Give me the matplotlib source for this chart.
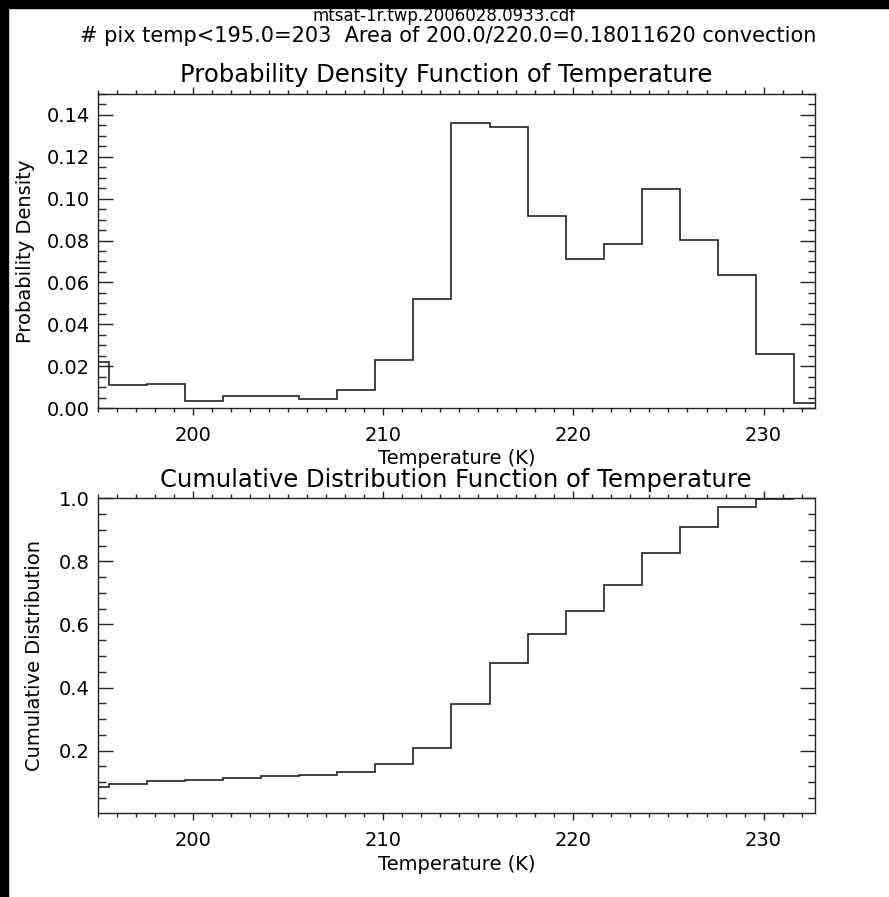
#!/usr/bin/env python3
"""
Brightness temperature PDF / CDF plot for a single MTSAT-1R scene.
"""

import matplotlib
matplotlib.use('Agg')
import matplotlib.pyplot as plt
from matplotlib.patches import Rectangle
from matplotlib.ticker import MultipleLocator, FormatStrFormatter


# Histogram bin edges (K); first/last bins are clipped by the plot range
pdf_edges = [195.0, 195.6, 197.6, 199.6, 201.6, 203.6, 205.6, 207.6, 209.6,
             211.6, 213.6, 215.6, 217.6, 219.6, 221.6, 223.6, 225.6, 227.6,
             229.6, 231.6, 232.7]
pdf_values = [0.0220, 0.0109, 0.0117, 0.0034, 0.0056, 0.0056, 0.0041, 0.0085,
              0.0229, 0.0520, 0.1360, 0.1340, 0.0919, 0.0712, 0.0783, 0.1048,
              0.0804, 0.0635, 0.0256, 0.0025]

cdf_edges = [195.0, 195.6, 197.6, 199.6, 201.6, 203.6, 205.6, 207.6, 209.6,
             211.6, 213.6, 215.6, 217.6, 219.6, 221.6, 223.6, 225.6, 227.6,
             229.6, 231.6]
cdf_values = [0.085, 0.0955, 0.103, 0.108, 0.114, 0.118, 0.124, 0.133, 0.157,
              0.208, 0.347, 0.479, 0.571, 0.644, 0.724, 0.828, 0.910, 0.972,
              0.997]

x_range = (195.0, 232.7)
pdf_range = (0.0, 0.150)
cdf_range = (0.003, 1.0)
pdf_ticks = [0.00, 0.02, 0.04, 0.06, 0.08, 0.10, 0.12, 0.14]
cdf_ticks = [0.2, 0.4, 0.6, 0.8, 1.0]
temp_ticks = [200, 210, 220, 230]

file_name = 'mtsat-1r.twp.2006028.0933.cdf'
summary = '# pix temp<195.0=203  Area of 200.0/220.0=0.18011620 convection'

W, H = 889, 897
LINE = '#222222'


def px(x, y):
    """Pixel position (from top-left) to figure fraction."""
    return x / W, 1 - y / H


def axes_rect(left, top, right, bottom):
    x0, y1 = px(left, top)
    x1, y0 = px(right, bottom)
    return [x0, y0, x1 - x0, y1 - y0]


def style_axes(ax, yticks, ymajor_fmt, yminor):
    ax.set_xlim(*x_range)
    ax.set_xticks(temp_ticks)
    ax.xaxis.set_minor_locator(MultipleLocator(1))
    ax.set_yticks(yticks)
    ax.yaxis.set_major_formatter(FormatStrFormatter(ymajor_fmt))
    ax.yaxis.set_minor_locator(MultipleLocator(yminor))
    for s in ax.spines.values():
        s.set_linewidth(1.0)
        s.set_color(LINE)
    # x ticks point out, y ticks point in, on both sides
    ax.tick_params(axis='x', which='both', direction='out', top=True,
                   bottom=True, color=LINE, width=1.0, labelsize=14, pad=8)
    ax.tick_params(axis='x', which='major', length=5)
    ax.tick_params(axis='x', which='minor', length=2.8)
    ax.tick_params(axis='y', which='both', direction='in', left=True,
                   right=True, color=LINE, width=1.0, labelsize=14, pad=5.5)
    ax.tick_params(axis='y', which='major', length=10.8)
    ax.tick_params(axis='y', which='minor', length=5.4)


def main():
    plt.rcParams['font.family'] = ['DejaVu Sans']
    fig = plt.figure(figsize=(W / 100, H / 100), dpi=100, facecolor='white')

    # dark frame along the left and top edges
    fig.patches.append(Rectangle((0, 0), 8 / W, 1, transform=fig.transFigure,
                                 color='black', zorder=0))
    fig.patches.append(Rectangle((0, 1 - 8 / H), 1, 8 / H,
                                 transform=fig.transFigure, color='black',
                                 zorder=0))

    fig.text(*px(444, 16), file_name, ha='center', va='center', fontsize=12)
    fig.text(*px(448, 36.5), summary, ha='center', va='center', fontsize=15)

    # --- PDF panel ---
    ax1 = fig.add_axes(axes_rect(97.5, 94, 815, 408))
    ax1.stairs(pdf_values, pdf_edges, baseline=None, color=LINE,
               linewidth=1.2)
    ax1.set_ylim(*pdf_range)
    style_axes(ax1, pdf_ticks, '%.2f', 0.005)
    ax1.set_ylabel('Probability Density', fontsize=14, va='center')
    ax1.yaxis.set_label_coords((26 - 97.5) / 717.5, 0.5)
    ax1.set_xlabel('Temperature (K)', fontsize=14, va='center')
    ax1.xaxis.set_label_coords(0.5, (408 - 459) / 314)
    fig.text(*px(446, 75), 'Probability Density Function of Temperature',
             ha='center', va='center', fontsize=17.5)

    # --- CDF panel ---
    ax2 = fig.add_axes(axes_rect(97.5, 498.3, 815, 812.7))
    ax2.stairs(cdf_values, cdf_edges, baseline=None, color=LINE,
               linewidth=1.2)
    ax2.set_ylim(*cdf_range)
    style_axes(ax2, cdf_ticks, '%.1f', 0.05)
    ax2.set_ylabel('Cumulative Distribution', fontsize=14, va='center')
    ax2.yaxis.set_label_coords((35 - 97.5) / 717.5, 0.5)
    ax2.set_xlabel('Temperature (K)', fontsize=14, va='center')
    ax2.xaxis.set_label_coords(0.5, (812.7 - 864) / 314.4)
    fig.text(*px(456, 480), 'Cumulative Distribution Function of Temperature',
             ha='center', va='center', fontsize=17.5)

    fig.savefig('out.png', dpi=100, facecolor='white')


if __name__ == '__main__':
    main()
